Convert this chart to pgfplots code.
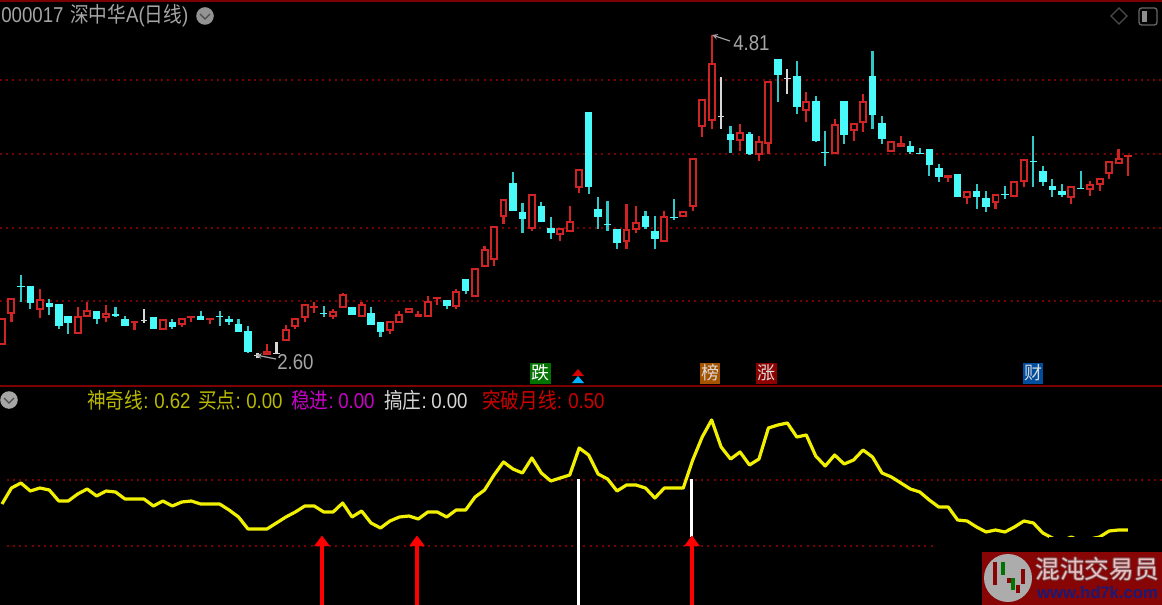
\documentclass[border=0pt]{standalone}
\usepackage{graphicx}
\usepackage{pgfplots}
\usepackage{pgfplotstable}
\usepackage{fontspec}
\pgfplotsset{compat=1.18}
\setmainfont{Liberation Sans}
\newfontfamily\cjk{Noto Sans CJK SC}
\definecolor{cy}{RGB}{72,250,250}
\definecolor{cyw}{RGB}{50,200,200}
\definecolor{rd}{RGB}{208,36,36}
\definecolor{grid}{RGB}{120,0,0}
\definecolor{frame}{RGB}{125,0,0}
\definecolor{wh}{RGB}{215,215,215}
\definecolor{gy}{RGB}{165,165,165}
\definecolor{olv}{RGB}{185,185,0}
\definecolor{mag}{RGB}{200,0,200}
\definecolor{ttr}{RGB}{205,0,0}
\definecolor{ylw}{RGB}{240,240,0}
\definecolor{wmred}{RGB}{135,5,5}
\definecolor{wmtxt}{RGB}{238,190,190}
\definecolor{wmedge}{RGB}{120,90,95}
\definecolor{wmblue}{RGB}{25,25,120}

\pgfplotstableread{
i v
0 504
1 488
2 483
3 491
4 488
5 490
6 501
7 501
8 494
9 489
10 496
11 491
12 492
13 499
14 499
15 499
16 506
17 501
18 506
19 502
20 501
21 504
22 504
23 504
24 510
25 517
26 529
27 529
28 529
29 523
30 517
31 512
32 506
33 506
34 512
35 512
36 503
37 517
38 511
39 523
40 528
41 521
42 517
43 516
44 519
45 512
46 512
47 517
48 510
49 510
50 497
51 490
52 475
53 462
54 469
55 473
56 458
57 473
58 481
59 478
60 475
61 448
62 455
63 474
64 479
65 491
66 485
67 485
68 488
69 498
70 488
71 488
72 488
73 460
74 437
75 420
76 447
77 459
78 452
79 465
80 459
81 428
82 425
83 423
84 437
85 435
86 456
87 466
88 455
89 464
90 460
91 450
92 457
93 473
94 477
95 483
96 489
97 492
98 500
99 507
100 507
101 520
102 521
103 527
104 532
105 530
106 532
107 527
108 521
109 523
110 533
111 538
112 541
113 537
114 541
115 539
116 537
117 531
118 530
119 530
}\indic

\newcommand\cbox[5]{%
  \pgfmathsetmacro\xa{#2-#3}\pgfmathsetmacro\xb{#2+#3}%
  \addplot[fill=#1,draw=none,forget plot] coordinates {(\xa,#4)(\xb,#4)(\xb,#5)(\xa,#5)} -- cycle;}
% candle macros: index, high, body top, body bottom, low (rows of the pane)
\newcommand\cc[5]{\cbox{cyw}{#1}{.115}{#2}{#5}\cbox{cy}{#1}{.40}{#3}{#4}}
\newcommand\rh[5]{\cbox{rd}{#1}{.115}{#2}{#5}\cbox{rd}{#1}{.42}{#3}{#4}%
  \pgfmathsetmacro\ya{#3+2}\pgfmathsetmacro\yb{#4-2}\cbox{black}{#1}{.21}{\ya}{\yb}}
\newcommand\rf[5]{\cbox{rd}{#1}{.115}{#2}{#5}\cbox{rd}{#1}{.40}{#3}{#4}}
\newcommand\wc[5]{\cbox{wh}{#1}{.12}{#2}{#5}\cbox{wh}{#1}{.34}{#3}{#4}}
\newcommand\hgrid[3]{\addplot[color=grid,line width=1.2pt,dash pattern=on 1.5pt off 3.15pt,forget plot] coordinates {(#1,#3)(#2,#3)};}
\newcommand\lab[4]{\node[anchor=base west,inner sep=0pt,text=#1,font=\fontsize{14pt}{14pt}\selectfont] at (axis cs:#2,#3) {\scalebox{1}[1.15]{#4}};}
\newcommand\wmt[3]{\node[text=#1,inner sep=0pt,font=\fontsize{18.5pt}{19pt}\selectfont\cjk] at (axis cs:#2,#3) {混沌交易员};}
\newcommand\redarrow[1]{%
  \pgfmathsetmacro\xc{#1-.82}\pgfmathsetmacro\xd{#1+.82}%
  \cbox{red}{#1}{.18}{545}{605}%
  \addplot[fill=red,draw=none,forget plot] coordinates {(\xc,546)(#1,535.5)(\xd,546)} -- cycle;}

\begin{document}
\begin{tikzpicture}
\fill[black] (-2pt,-2pt) rectangle (873.5pt,455.75pt);
\begin{axis}[at={(0pt,0pt)},anchor=south west,scale only axis,width=871.5pt,height=453.75pt,
  hide axis,clip=true,xmin=-0.2114,xmax=122.596,ymin=0,ymax=605,y dir=reverse]
% frame lines
\cbox{frame}{61.2}{62}{0}{2}
\cbox{frame}{61.2}{62}{385}{387}
% grid
\hgrid{-0.2114}{122.596}{80}
\hgrid{-0.2114}{122.596}{154}
\hgrid{-0.2114}{122.596}{228}
\hgrid{-0.2114}{122.596}{301}
\hgrid{0.5}{122.596}{480}
\hgrid{0.5}{98.6}{546}
% cyan candles
\cc{2}{275}{286}{287.5}{302}
\cc{3}{286}{286}{303}{309}
\cc{5}{299}{303}{307}{315}
\cc{6}{304}{304}{326}{329}
\cc{7}{316}{316}{323}{334}
\cc{10}{311}{311}{319}{324}
\cc{12}{307}{314}{316}{317}
\cc{13}{316}{319}{326}{326}
\cc{16}{317}{317}{329}{329}
\cc{18}{319}{322}{327}{329}
\cc{21}{311}{316}{320}{320}
\cc{23}{311}{316}{317.5}{326}
\cc{24}{316}{319}{322}{325}
\cc{25}{319}{324}{332}{332}
\cc{26}{326}{331}{352}{353}
\cc{34}{306}{313}{314.5}{317}
\cc{37}{307}{307}{315}{315}
\cc{39}{307}{313}{325}{325}
\cc{40}{322}{322}{332}{337}
\cc{47}{300}{300}{306}{309}
\cc{49}{279}{279}{291}{294}
\cc{54}{172}{183}{211}{211}
\cc{55}{203}{212}{219}{233}
\cc{57}{202}{206}{222}{222}
\cc{58}{217}{228}{233}{239}
\cc{62}{112}{112}{187}{194}
\cc{63}{197}{209}{217}{229}
\cc{64}{201}{224}{225.5}{231}
\cc{65}{229}{229}{243}{249}
\cc{68}{211}{216}{227}{229}
\cc{69}{216}{231}{239}{249}
\cc{71}{199}{217}{218.5}{220}
\cc{77}{126}{134}{140}{153}
\cc{79}{132}{134}{154}{155}
\cc{82}{59}{59}{75}{102}
\cc{84}{61}{76}{107}{114}
\cc{86}{96}{101}{141}{142}
\cc{87}{131}{152}{153.5}{166}
\cc{89}{101}{101}{135}{144}
\cc{92}{51}{76}{115}{129}
\cc{93}{116}{123}{139}{144}
\cc{96}{141}{146}{152}{154}
\cc{97}{148}{153}{154.5}{154.5}
\cc{98}{149}{149}{165}{176}
\cc{99}{164}{168}{177}{182}
\cc{101}{174}{174}{197}{197}
\cc{103}{184}{191}{197}{209}
\cc{104}{191}{198}{207}{212}
\cc{106}{186}{194}{195.5}{199}
\cc{109}{136}{161}{162.5}{187}
\cc{110}{166}{171}{182}{186}
\cc{111}{179}{186}{190}{197}
\cc{112}{184}{191}{195}{197}
\cc{114}{171}{188}{189.5}{189.5}
% red hollow candles
\rh{0}{318}{318}{345}{345}
\rh{1}{298}{298}{314}{322}
\rh{4}{289}{299}{310}{318}
\rh{8}{307}{316}{334}{334}
\rh{9}{302}{310}{317}{317}
\rh{11}{305}{313}{318}{322}
\rh{17}{319}{319}{330}{330}
\rh{19}{318}{318}{325}{327}
\rh{28}{344}{351}{355}{355}
\rh{30}{325}{329}{341}{341}
\rh{31}{318}{318}{327}{329}
\rh{32}{304}{304}{318}{322}
\rh{35}{309}{311}{317}{319}
\rh{36}{293}{294}{308}{308}
\rh{38}{302}{304}{317}{317}
\rh{41}{321}{321}{331}{334}
\rh{42}{311}{314}{323}{323}
\rh{43}{308}{308}{313}{313}
\rh{45}{296}{301}{317}{317}
\rh{48}{289}{291}{307}{309}
\rh{50}{268}{268}{297}{297}
\rh{51}{246}{249}{267}{267}
\rh{52}{226}{226}{260}{266}
\rh{53}{199}{199}{217}{224}
\rh{56}{194}{194}{229}{231}
\rh{59}{228}{228}{235}{241}
\rh{60}{206}{221}{232}{232}
\rh{61}{169}{169}{188}{193}
\rh{66}{204}{229}{242}{249}
\rh{67}{206}{222}{230}{233}
\rh{70}{211}{216}{242}{242}
\rh{72}{211}{211}{217}{217}
\rh{73}{158}{158}{207}{211}
\rh{74}{99}{99}{127}{137}
\rh{75}{35}{63}{121}{129}
\rh{78}{124}{132}{141}{151}
\rh{80}{136}{141}{155}{161}
\rh{81}{81}{81}{144}{154}
\rh{85}{92}{101}{111}{122}
\rh{88}{119}{124}{154}{154}
\rh{90}{123}{123}{131}{141}
\rh{91}{94}{101}{123}{132}
\rh{94}{141}{141}{152}{152}
\rh{95}{136}{143}{147}{147}
\rh{102}{191}{191}{198}{204}
\rh{105}{194}{194}{203}{209}
\rh{107}{181}{181}{197}{197}
\rh{108}{159}{159}{182}{187}
\rh{113}{186}{186}{198}{204}
\rh{115}{181}{184}{190}{196}
\rh{116}{178}{178}{185}{191}
\rh{117}{161}{161}{174}{179}
\rh{118}{149}{158}{164}{164}
% red filled candles
\rf{14}{321}{321}{323}{330}
\rf{20}{316}{316}{318}{322}
\rf{22}{318}{318}{320}{324}
\rf{33}{302}{306}{308}{313}
\rf{44}{311}{314}{317}{317}
\rf{46}{297}{297}{299}{305}
\rf{100}{175}{175}{178}{182}
\rf{119}{155}{155}{157}{176}
% white doji candles
\wc{15}{309}{320}{321.5}{323}
\wc{27}{353}{355}{356.5}{358}
\wc{29}{342}{353}{354.5}{354.5}
\wc{76}{77}{116}{117.5}{129}
\wc{83}{69}{78}{79.5}{94}
% white sticks
\cbox{white}{60.88}{.16}{479}{605}
\cbox{white}{72.92}{.16}{479}{537}
% red arrows
\redarrow{33.82}
\redarrow{43.86}
\redarrow{72.92}
% indicator
\addplot[color=ylw,line width=2.4pt,line join=round] table[x=i,y=v] {\indic};
\cbox{black}{114.4}{3.8}{537}{545}
\end{axis}

\begin{axis}[at={(0pt,0pt)},anchor=south west,scale only axis,width=871.5pt,height=453.75pt,
  hide axis,clip=false,xmin=0,xmax=1162,ymin=0,ymax=605,y dir=reverse]
% title
\lab{gy}{1}{23}{000017\hspace{5pt}{\cjk 深中华}A({\cjk 日线})}
\fill[gray!85] (axis cs:205,16) circle (6.6pt);
\draw[black!70,line width=1pt] (axis cs:200,14) -- (axis cs:205,19) -- (axis cs:210,14);
% top-right icons
\draw[black!70!white,line width=1pt] (axis cs:1119,8) -- (axis cs:1127,16) -- (axis cs:1119,24) -- (axis cs:1111,16) -- cycle;
\draw[black!60!white,line width=1pt,rounded corners=2pt] (axis cs:1139,8) rectangle (axis cs:1157,25);
\fill[black!45!white] (axis cs:1142,11) rectangle (axis cs:1147,22);
% price extremes
\lab{gy}{733}{51}{4.81}
\draw[gy,line width=0.9pt,->,>=stealth] (axis cs:730,41) -- (axis cs:712,35);
\lab{gy}{277}{369}{2.60}
\draw[gy,line width=0.9pt,->,>=stealth] (axis cs:276,359) -- (axis cs:256,355);
% tags
\fill[green!45!black] (axis cs:530,363) rectangle (axis cs:551,384);
\node[text=white,inner sep=0pt,font=\fontsize{13.5pt}{14pt}\selectfont\cjk] at (axis cs:540.5,373) {跌};
\fill[orange!65!black] (axis cs:700,363) rectangle (axis cs:720,384);
\node[text=white!85!black,inner sep=0pt,font=\fontsize{13.5pt}{14pt}\selectfont\cjk] at (axis cs:710,373) {榜};
\fill[red!55!black] (axis cs:756,363) rectangle (axis cs:777,384);
\node[text=white!85!black,inner sep=0pt,font=\fontsize{13.5pt}{14pt}\selectfont\cjk] at (axis cs:766.5,373) {涨};
\fill[blue!45!black!70!cyan] (axis cs:1023,363) rectangle (axis cs:1043,384);
\node[text=white!85!black,inner sep=0pt,font=\fontsize{13.5pt}{14pt}\selectfont\cjk] at (axis cs:1033,373) {财};
% double arrow
\fill[red!85!black] (axis cs:572,376) -- (axis cs:578,369) -- (axis cs:584,376) -- cycle;
\fill[blue!30!cyan] (axis cs:572,383) -- (axis cs:578,376) -- (axis cs:584,383) -- cycle;
% legend row
\fill[gray!70] (axis cs:9,400) circle (6.6pt);
\draw[black!70,line width=1pt] (axis cs:4,398) -- (axis cs:9,403) -- (axis cs:14,398);
\lab{olv}{87}{408}{{\cjk 神奇线}:}
\lab{olv}{154}{408}{0.62}
\lab{olv}{198}{408}{{\cjk 买点}:}
\lab{olv}{246}{408}{0.00}
\lab{mag}{291}{408}{{\cjk 稳进}:}
\lab{mag}{338}{408}{0.00}
\lab{wh}{384}{408}{{\cjk 搞庄}:}
\lab{wh}{431}{408}{0.00}
\lab{ttr}{482}{408}{{\cjk 突破月线}:}
\lab{ttr}{568}{408}{0.50}
% watermark
\fill[wmred] (axis cs:982,552) rectangle (axis cs:1162,605);
\fill[gray!65!white] (axis cs:1008,578) circle (18pt);
\draw[wmred,line width=2.4pt] (axis cs:995,562) -- (axis cs:995,585);
\draw[green!45!black,line width=2.4pt] (axis cs:1003,562) -- (axis cs:1003,575);
\draw[wmred,line width=2.4pt] (axis cs:1009,578) -- (axis cs:1009,583);
\draw[green!45!black,line width=2.4pt] (axis cs:1013,578) -- (axis cs:1013,590);
\draw[wmred,line width=2.4pt] (axis cs:1018,585) -- (axis cs:1018,593);
\draw[wmred,line width=2.4pt] (axis cs:1023,569) -- (axis cs:1023,584);
\wmt{wmedge}{1096}{569}
\wmt{wmedge}{1098}{569}
\wmt{wmedge}{1097}{568}
\wmt{wmedge}{1097}{570}
\wmt{wmtxt}{1097}{569}
\node[text=wmblue,inner sep=0pt,font=\fontsize{12.5pt}{13pt}\selectfont\bfseries] at (axis cs:1097.5,593) {www.hd7k.com};
\end{axis}
\pgfresetboundingbox
\path[use as bounding box] (0,0) rectangle (871.5pt,453.75pt);
\end{tikzpicture}
\end{document}
